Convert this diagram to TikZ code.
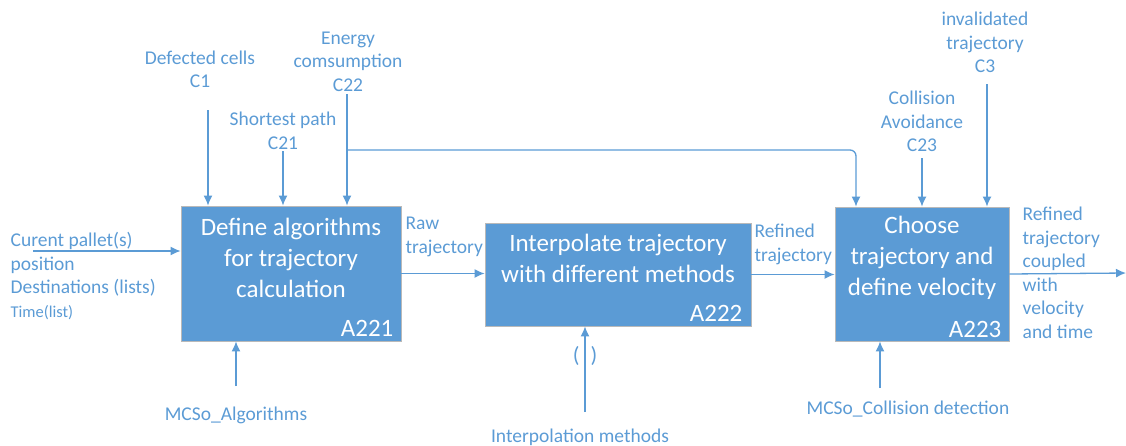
\documentclass[tikz,border=0pt]{standalone}
\usepackage{fontspec}
\setmainfont{Carlito}
\usetikzlibrary{arrows.meta,positioning}
\definecolor{idefblue}{RGB}{91,155,213}
\definecolor{idefgray}{RGB}{185,185,185}

\begin{document}
\begin{tikzpicture}[x=1pt,y=-1pt,line width=1.3pt,
  box/.style={draw=idefgray,line width=0.8pt,fill=idefblue,inner sep=0pt},
  boxtext/.style={text=white,align=center,font=\fontsize{25}{31}\selectfont,inner sep=0pt},
  boxid/.style={text=white,font=\fontsize{25}{28}\selectfont,inner sep=0pt,anchor=base east},
  lbl/.style={text=idefblue,align=center,font=\fontsize{19.5}{23.5}\selectfont,inner sep=0pt},
  flow/.style={draw=idefblue,-{Latex[length=10pt,width=9pt]}}]
\useasboundingbox (0,0) rectangle (1126,445);

% activity boxes
\node[box,minimum width=220pt,minimum height=135pt] (a221) at (291,273.5) {};
\node[box,minimum width=266pt,minimum height=103pt] (a222) at (618,274.5) {};
\node[box,minimum width=174pt,minimum height=134pt] (a223) at (922,274) {};

\node[boxtext] (t221) at (291,258) {Define algorithms\\for trajectory\\calculation};
\node[boxtext] (t222) at (618,258) {Interpolate trajectory\\with different methods};
\node[boxtext] (t223) at (922,258) {Choose\\trajectory and\\define velocity};
\node[boxid] (id221) at (394,336) {A221};
\node[boxid] (id222) at (743,321) {A222};
\node[boxid] (id223) at (1002,337) {A223};

% controls
\node[lbl] (c1) at (200,69.5) {Defected cells\\C1};
\node[lbl] (c21) at (283,131) {Shortest path\\C21};
\node[lbl] (c22) at (348,61.5) {Energy\\comsumption\\C22};
\node[lbl] (c23) at (922,121.5) {Collision\\Avoidance\\C23};
\node[lbl] (c3) at (985,42.5) {invalidated\\trajectory\\C3};

% inputs, outputs
\node[lbl,align=left,anchor=west] (inp) at (10,276) {Curent pallet(s)\\position\\Destinations (lists)\\{\fontsize{16.5}{20}\selectfont Time(list)}};
\node[lbl,align=left,anchor=west] (raw) at (405,237) {Raw\\trajectory};
\node[lbl,align=left,anchor=west] (refined) at (754,244.5) {Refined\\trajectory};
\node[lbl,align=left,anchor=west] (out) at (1022,273) {Refined\\trajectory\\coupled\\with\\velocity\\and time};

% mechanisms
\node[lbl] (m1) at (236,415) {MCSo\_Algorithms};
\node[lbl] (m2) at (580,437) {Interpolation methods};
\node[lbl] (m3) at (908,409) {MCSo\_Collision detection};
\node[lbl,font=\fontsize{22}{24}\selectfont] (tunnel) at (585,356) {(\,\,\,)};

\coordinate (c1a) at (208,110);
\coordinate (c21a) at (283,151);
\coordinate (c22a) at (347,94);
\coordinate (split) at (347,150);
\coordinate (c23a) at (922,158);
\coordinate (c3a) at (987,84);
\coordinate (ina) at (33,251);
\coordinate (outa) at (1126,273);
\coordinate (m1a) at (236,386);
\coordinate (m2a) at (585,412);
\coordinate (m3a) at (880,388);

\draw[flow] (c1a) -- (c1a |- a221.north);
\draw[flow] (c21a) -- (c21a |- a221.north);
\draw[flow] (c22a) -- (c22a |- a221.north);
\draw[flow,rounded corners=6pt] (split) -| (a223.north -| 856,0);
\draw[flow] (c23a) -- (c23a |- a223.north);
\draw[flow] (c3a) -- (c3a |- a223.north);

\draw[flow] (ina) -- (ina -| a221.west);
\draw[flow] (a221.east) -- (a221.east -| a222.west);
\draw[flow] (a222.east) -- (a222.east -| a223.west);
\draw[flow] (a223.east) -- (outa);

\draw[flow] (m1a) -- (m1a |- a221.south);
\draw[flow] (m2a) -- (m2a |- a222.south);
\draw[flow] (m3a) -- (m3a |- a223.south);
\end{tikzpicture}
\end{document}
